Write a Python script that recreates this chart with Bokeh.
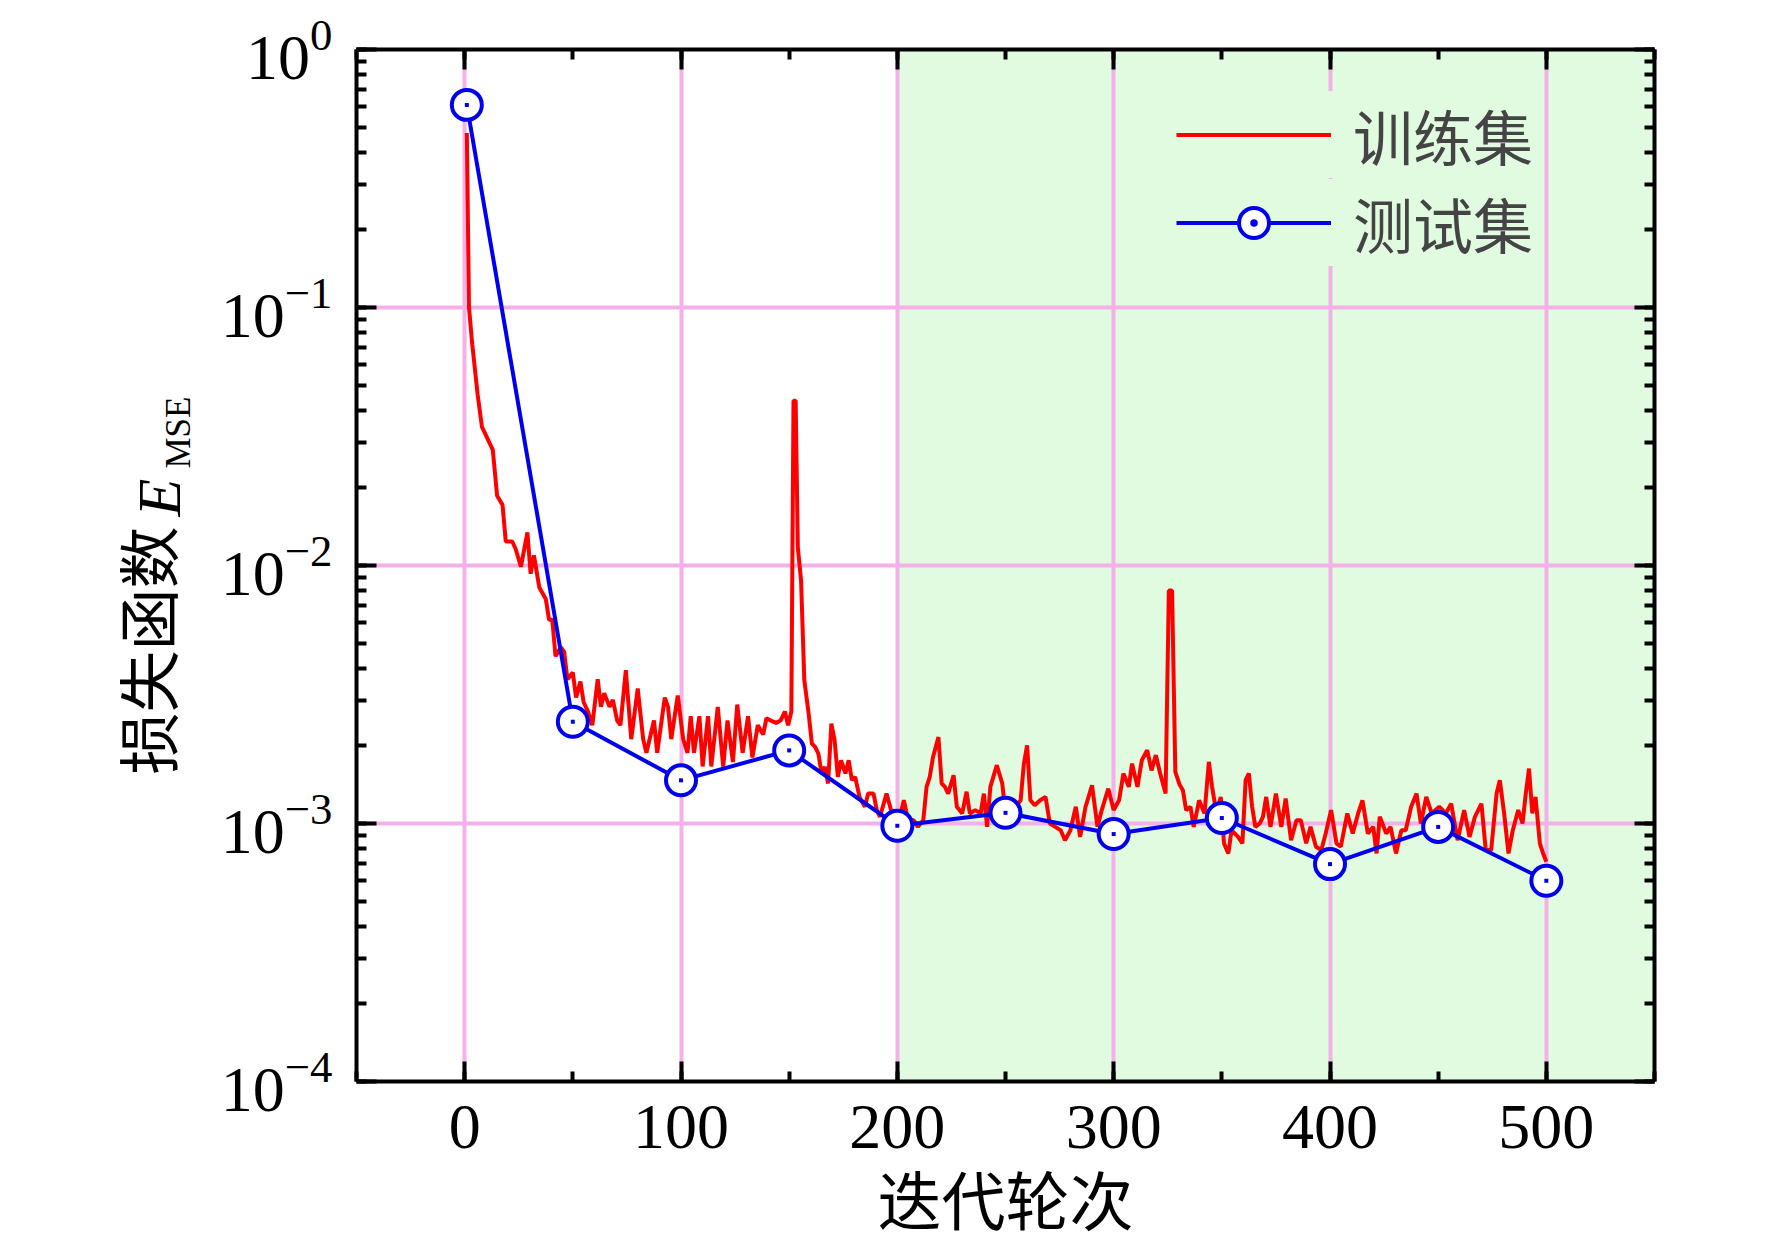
import numpy as np
from bokeh.plotting import figure
from bokeh.layouts import row, column
from bokeh.models import (LinearAxis, LogAxis, SingleIntervalTicker, LogTicker, BoxAnnotation,
                          Legend, LegendItem, Range1d, CustomJSTickFormatter)
from bokeh.core.properties import value
from bokeh.embed import file_html
from bokeh.resources import INLINE

# training loss as log10 values
train_epoch = [1, 2, 3.5, 6, 8, 13, 15, 17.5, 19, 22, 23.5, 26, 29, 30.5, 32, 34.5, 37.5, 39, 40.5, 42,
               44.5, 46, 47.5, 50, 51.5, 53.5, 55, 57, 59, 61.5, 63, 64.5, 67, 68.5, 70.5, 72, 74.5, 77,
               80, 82.5, 84, 86, 87.5, 89, 92.5, 94, 95.5, 98.5, 101, 103, 104.5, 106, 108.5, 110, 112.5,
               114, 117, 119.5, 121.5, 124, 126, 128.5, 131, 133, 135.5, 138, 139.5, 141.5, 144, 146, 148,
               149.5, 151, 152, 153, 154, 155.5, 157, 159, 160.5, 162, 163.5, 165, 166.5, 168, 169.5, 171,
               172.5, 174, 176, 177.5, 179, 180.5, 182.5, 185, 186.5, 189, 190.5, 192, 195, 197.5, 199,
               200.5, 203, 205, 207.5, 209.5, 212, 213.5, 215, 216.5, 219, 220.5, 222, 223.5, 226, 227.5,
               230, 232, 233.5, 236, 238.5, 240, 241.5, 243, 246, 248.5, 250, 253.5, 257, 258.5, 260,
               261.5, 263.5, 266, 268.5, 270.5, 273, 275.5, 277.5, 280, 282.5, 284.5, 287, 290, 292.5,
               294.5, 297.5, 300, 302.5, 304.5, 307, 308.5, 311, 313, 315.5, 317.5, 319.5, 321.5, 324,
               325.5, 327, 328.5, 330.5, 332, 333.5, 335.5, 337, 339.5, 342, 344, 345.5, 347.5, 349.5,
               351, 353, 354.5, 357.5, 359.5, 361, 362.5, 364, 365.5, 367.5, 369, 370.5, 372.5, 375,
               377.5, 379.5, 382, 384.5, 386.5, 389, 391, 393.5, 396, 398, 400.5, 403, 405, 408, 410.5,
               413, 415, 417.5, 420, 421.5, 423, 426, 428, 430.5, 433, 435, 437.5, 440, 442, 444.5, 447,
               450.5, 453.5, 456, 459, 462, 464.5, 467, 470, 472, 474.5, 477, 478.5, 480.5, 482.5, 484.5,
               487, 489, 490.5, 492, 493.5, 495, 497, 498.5, 500]
train_log10 = [-0.324, -1.0, -1.142, -1.338, -1.463, -1.552, -1.730, -1.765, -1.907, -1.907, -1.934, -2.005,
               -1.872, -2.032, -1.961, -2.085, -2.130, -2.210, -2.210, -2.352, -2.317, -2.335, -2.441,
               -2.415, -2.512, -2.450, -2.530, -2.566, -2.619, -2.441, -2.548, -2.495, -2.548, -2.521,
               -2.601, -2.619, -2.406, -2.673, -2.477, -2.673, -2.726, -2.655, -2.601, -2.726, -2.512,
               -2.548, -2.673, -2.504, -2.673, -2.726, -2.584, -2.726, -2.584, -2.779, -2.584, -2.779,
               -2.548, -2.779, -2.601, -2.762, -2.539, -2.726, -2.584, -2.744, -2.619, -2.655, -2.592,
               -2.601, -2.610, -2.601, -2.566, -2.619, -2.566, -1.361, -1.361, -1.929, -2.058, -2.445,
               -2.574, -2.690, -2.703, -2.729, -2.806, -2.781, -2.845, -2.613, -2.677, -2.819, -2.755,
               -2.806, -2.755, -2.832, -2.819, -2.897, -2.935, -2.884, -2.884, -2.948, -2.974, -2.884,
               -2.961, -2.948, -3.000, -2.910, -2.987, -2.987, -3.013, -2.987, -2.858, -2.819, -2.742,
               -2.665, -2.845, -2.858, -2.884, -2.813, -2.935, -2.961, -2.877, -2.961, -2.948, -2.961,
               -2.884, -3.013, -2.858, -2.774, -2.845, -2.961, -2.948, -2.910, -2.768, -2.697, -2.910,
               -2.929, -2.910, -2.897, -3.000, -3.013, -3.026, -3.065, -3.026, -2.935, -3.052, -2.935,
               -2.852, -3.013, -2.948, -2.865, -2.948, -2.910, -2.806, -2.858, -2.768, -2.858, -2.755,
               -2.716, -2.794, -2.735, -2.806, -2.884, -2.097, -2.097, -2.800, -2.850, -2.871, -2.948,
               -2.935, -3.013, -2.910, -2.961, -2.761, -2.858, -2.961, -2.897, -3.077, -3.116, -3.026,
               -3.052, -3.077, -2.832, -2.806, -2.935, -3.013, -3.000, -2.974, -2.897, -3.013, -2.884,
               -3.013, -2.903, -3.065, -2.987, -2.987, -3.077, -3.013, -3.090, -3.103, -3.039, -2.948,
               -3.077, -3.090, -2.961, -3.039, -2.961, -2.910, -3.039, -3.013, -3.116, -2.974, -3.039,
               -3.013, -3.116, -3.026, -3.026, -2.935, -2.884, -3.000, -2.897, -2.961, -2.935, -2.961,
               -2.923, -3.065, -2.948, -3.052, -2.974, -2.923, -3.103, -3.103, -2.884, -2.832, -2.961,
               -3.116, -3.026, -2.948, -3.000, -2.884, -2.787, -2.961, -2.897, -3.077, -3.116, -3.148]
train_loss = [10 ** v for v in train_log10]

test_epoch = [1, 50, 100, 150, 200, 250, 300, 350, 400, 450, 500]
test_loss = [0.61, 2.48e-3, 1.47e-3, 1.92e-3, 9.8e-4, 1.1e-3, 9.1e-4, 1.05e-3, 6.96e-4, 9.7e-4, 6.0e-4]

legend_labels = ["训练集", "测试集"]
x_title = "迭代轮次"
y_title = "损失函数"
y_symbol = "E"
y_sub = "MSE"

SERIF = "Liberation Serif"
CJK = "Noto Sans CJK SC"
BLUE = "#0000ee"
GREEN = "#e0fbdf"

LEFT_W = 215
TOTAL_W, TOTAL_H = 1764, 1245

# main plot
p = figure(width=TOTAL_W - LEFT_W, height=TOTAL_H, x_range=Range1d(-50, 550), y_range=Range1d(1e-4, 1),
           y_axis_type="log", output_backend="svg", toolbar_location=None,
           min_border_left=356 - LEFT_W, min_border_right=110, min_border_top=49,
           min_border_bottom=TOTAL_H - 1081)
p.outline_line_color = None

p.add_layout(LinearAxis(), "above")
p.add_layout(LogAxis(), "right")

for ax in p.xaxis:
    ax.ticker = SingleIntervalTicker(interval=100, num_minor_ticks=2)
for ax in p.yaxis:
    ax.ticker = LogTicker(num_minor_ticks=10)
for ax in p.axis:
    ax.axis_line_width = 4
    ax.major_tick_in = 20
    ax.major_tick_out = 0
    ax.minor_tick_in = 10
    ax.minor_tick_out = 0
    ax.major_tick_line_width = 4
    ax.minor_tick_line_width = 4
    ax.major_label_text_font = SERIF
    ax.major_label_text_font_size = "64px"
    ax.major_label_text_color = "black"
    ax.major_label_standoff = 24
p.above[0].formatter = CustomJSTickFormatter(code="return ''")
p.right[0].formatter = CustomJSTickFormatter(code="return ''")

xax = p.below[0]
xax.axis_label = x_title
xax.axis_label_text_font = CJK
xax.axis_label_text_font_size = "64px"
xax.axis_label_text_font_style = "normal"
xax.axis_label_text_color = "black"
xax.axis_label_standoff = 0

p.grid.grid_line_color = "#f5afe9"
p.grid.grid_line_width = 4

p.add_layout(BoxAnnotation(left=200, fill_color=GREEN, fill_alpha=1, line_color=None, level="image"))

r_train = p.line(train_epoch, train_loss, line_color="#ff0000", line_width=4)
r_test = p.line(test_epoch, test_loss, line_color=BLUE, line_width=4)
r_ring = p.scatter(test_epoch, test_loss, marker="circle", size=30, line_color=BLUE,
                   line_width=4, fill_color="white")
r_dot = p.scatter(test_epoch, test_loss, marker="square", size=4, line_color=None, fill_color=BLUE)
# legend-only marker, kept outside the x range
r_key = p.scatter([-1000], [1e-3], marker="circle_dot", size=30, line_color=BLUE,
                  line_width=4, fill_color="white")


def key(label, renderers, y):
    return Legend(items=[LegendItem(label=label, renderers=renderers)],
                  location=(820, y), label_text_font=CJK, label_text_font_size="60px",
                  glyph_width=155, glyph_height=75, label_height=60, spacing=0, padding=8,
                  label_standoff=22, background_fill_color=GREEN, background_fill_alpha=1,
                  border_line_color=None)


p.add_layout(key(legend_labels[0], [r_train], 903))
p.add_layout(key(legend_labels[1], [r_test, r_key], 815))

# y title strip on the left, in pixel coordinates
ylab = figure(width=LEFT_W, height=TOTAL_H, x_range=Range1d(0, LEFT_W), y_range=Range1d(0, TOTAL_H),
              output_backend="svg", toolbar_location=None, x_axis_location=None,
              y_axis_location=None, min_border=0, min_border_left=0, min_border_right=0,
              min_border_top=0, min_border_bottom=0)
ylab.outline_line_color = None
ylab.grid.visible = False
ylab.text(x=[145], y=[TOTAL_H - 774], text=[y_title], angle=np.pi / 2, text_font=value(CJK),
          text_font_size="62px", text_align="left", text_baseline="middle", text_color="black")
ylab.text(x=[158], y=[TOTAL_H - 516], text=[y_symbol], angle=np.pi / 2, text_font=value(SERIF),
          text_font_style="italic", text_font_size="62px", text_align="left",
          text_baseline="middle", text_color="black")
ylab.text(x=[178], y=[TOTAL_H - 468], text=[y_sub], angle=np.pi / 2, text_font=value(SERIF),
          text_font_size="35px", text_align="left", text_baseline="middle", text_color="black")

# wrapping the main plot keeps the strip's frame from being aligned to it
page = row(ylab, column(p, spacing=0), spacing=0)

open("out.html", "w").write(file_html(page, INLINE))
